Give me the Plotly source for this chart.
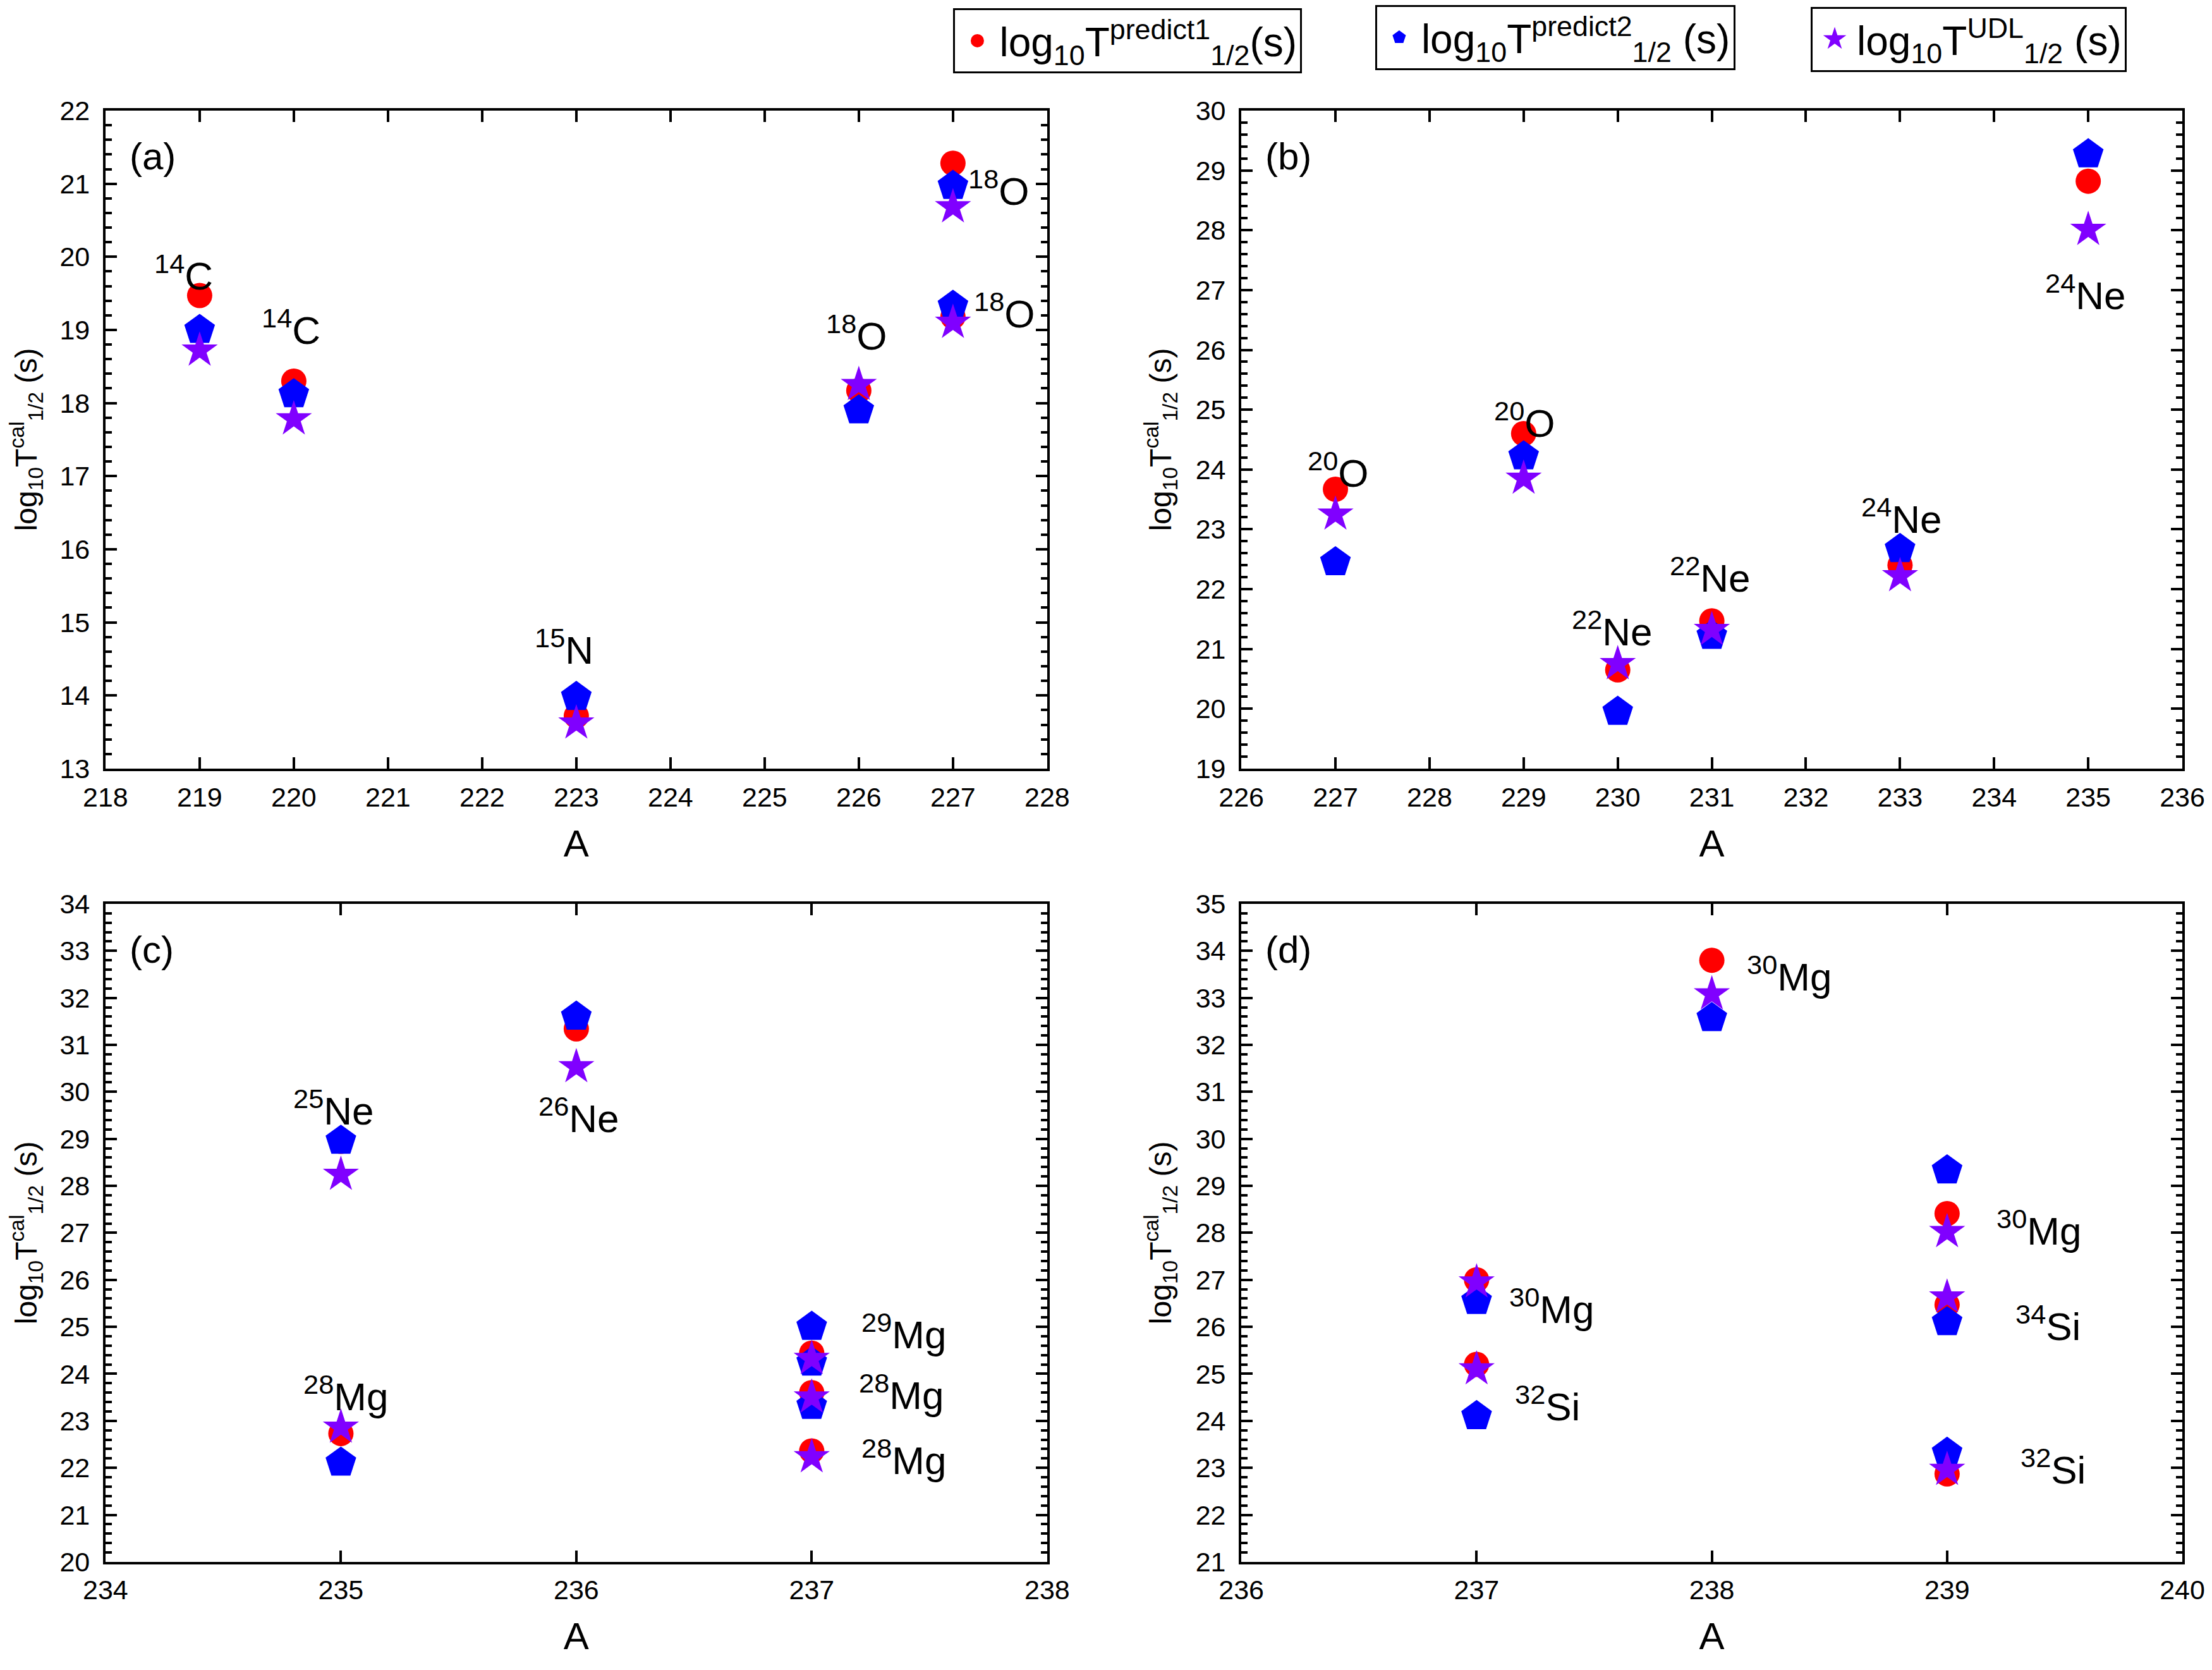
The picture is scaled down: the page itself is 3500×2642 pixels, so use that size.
import plotly.graph_objects as go
from plotly.subplots import make_subplots

# ---- data ----
A_a = [219, 220, 223, 226, 227, 227]
pred1_a = [19.47, 18.30, 13.72, 18.17, 21.28, 19.18]
pred2_a = [19.00, 18.12, 13.98, 17.90, 20.97, 19.33]
udl_a = [18.72, 17.78, 13.62, 18.25, 20.68, 19.10]

A_b = [227, 229, 230, 231, 233, 235]
pred1_b = [23.67, 24.60, 20.65, 21.47, 22.40, 28.82]
pred2_b = [22.45, 24.22, 19.95, 21.22, 22.67, 29.27]
udl_b = [23.25, 23.85, 20.75, 21.32, 22.22, 28.01]

A_c = [235, 235, 236, 237, 237, 237]
pred1_c = [22.73, 28.95, 31.34, 24.44, 23.60, 22.36]
pred2_c = [22.11, 28.96, 31.60, 25.00, 24.24, 23.32]
udl_c = [22.86, 28.24, 30.53, 24.32, 23.50, 22.23]

A_d = [237, 237, 238, 239, 239, 239]
pred1_d = [27.00, 25.20, 33.80, 28.41, 26.47, 22.87]
pred2_d = [26.55, 24.10, 32.57, 29.33, 26.10, 23.32]
udl_d = [26.95, 25.10, 33.08, 28.02, 26.63, 22.96]

# isotope labels (text, A, value where the label sits)
labels_a = [('<sup>14</sup>C', 218.83, 19.78), ('<sup>14</sup>C', 219.97, 19.03),
            ('<sup>15</sup>N', 222.87, 14.66), ('<sup>18</sup>O', 225.98, 18.96),
            ('<sup>18</sup>O', 227.49, 20.94), ('<sup>18</sup>O', 227.55, 19.26)]
labels_b = [('<sup>20</sup>O', 227.03, 23.99), ('<sup>20</sup>O', 229.01, 24.82),
            ('<sup>22</sup>Ne', 229.94, 21.33), ('<sup>22</sup>Ne', 230.98, 22.23),
            ('<sup>24</sup>Ne', 233.02, 23.22), ('<sup>24</sup>Ne', 234.97, 26.96)]
labels_c = [('<sup>25</sup>Ne', 234.97, 29.65), ('<sup>26</sup>Ne', 236.01, 29.50),
            ('<sup>28</sup>Mg', 235.02, 23.57), ('<sup>29</sup>Mg', 237.39, 24.89),
            ('<sup>28</sup>Mg', 237.38, 23.60), ('<sup>28</sup>Mg', 237.39, 22.22)]
labels_d = [('<sup>30</sup>Mg', 238.33, 33.50), ('<sup>30</sup>Mg', 239.39, 28.10),
            ('<sup>34</sup>Si', 239.43, 26.07), ('<sup>32</sup>Si', 239.45, 23.01),
            ('<sup>30</sup>Mg', 237.32, 26.43), ('<sup>32</sup>Si', 237.30, 24.36)]

panel_tags = ['(a)', '(b)', '(c)', '(d)']
x_ranges = [[218, 228], [226, 236], [234, 238], [236, 240]]
y_ranges = [[13, 22], [19, 30], [20, 34], [21, 35]]

FONT = 'Arial, "Liberation Sans", sans-serif'

series_names = [
    'log<sub>10</sub>T<sup>predict1</sup><sub>1/2</sub>(s)',
    'log<sub>10</sub>T<sup>predict2</sup><sub>1/2</sub> (s)',
    'log<sub>10</sub>T<sup>UDL</sup><sub>1/2</sub> (s)',
]
series_style = [
    dict(symbol='circle', color='#FF0000', size=40),
    dict(symbol='pentagon', color='#0000FF', size=51),
    dict(symbol='star', color='#8000FF', size=43),
]
legend_ids = ['legend', 'legend2', 'legend3']

panels = [
    (1, 1, A_a, [pred1_a, pred2_a, udl_a], labels_a),
    (1, 2, A_b, [pred1_b, pred2_b, udl_b], labels_b),
    (2, 1, A_c, [pred1_c, pred2_c, udl_c], labels_c),
    (2, 2, A_d, [pred1_d, pred2_d, udl_d], labels_d),
]

fig = make_subplots(rows=2, cols=2)

annotations = []
for k, (row, col, xs, ys_list, labs) in enumerate(panels):
    for s, ys in enumerate(ys_list):
        st = series_style[s]
        fig.add_trace(go.Scatter(
            x=xs, y=ys, mode='markers',
            name=series_names[s],
            showlegend=False,
            marker=dict(symbol=st['symbol'], color=st['color'], size=st['size'],
                        line=dict(width=0)),
        ), row=row, col=col)
    ax = '' if k == 0 else str(k + 1)
    for txt, lx, ly in labs:
        annotations.append(dict(
            x=lx, y=ly, xref='x' + ax, yref='y' + ax, text=txt, showarrow=False,
            font=dict(size=62, color='black', family=FONT),
        ))
    annotations.append(dict(
        x=0.024, y=0.93, xref='x' + ax + ' domain', yref='y' + ax + ' domain',
        text=panel_tags[k], showarrow=False, xanchor='left', yanchor='middle',
        font=dict(size=60, color='black', family=FONT),
    ))

# legend-only entries (one boxed legend per series)
for s in range(3):
    st = series_style[s]
    fig.add_trace(go.Scatter(
        x=[None], y=[None], mode='markers', name=series_names[s],
        legend=legend_ids[s], showlegend=True,
        marker=dict(symbol=st['symbol'], color=st['color'], size=st['size'],
                    line=dict(width=5, color=st['color'])),
    ), row=1, col=1)

# page body has an 8px margin, so panels are placed 8px up/left
x_domains = [[0.0454, 0.4711], [0.5589, 0.9843]]
y_domains = [[0.5428, 0.9368], [0.0678, 0.4618]]

axis_common = dict(
    showline=True, linecolor='black', linewidth=4, mirror='ticks',
    ticks='inside', tickwidth=4, ticklen=18, tickcolor='black',
    showgrid=False, zeroline=False, automargin=False,
    tickfont=dict(size=43, color='black', family=FONT),
)

for k, (row, col, xs, ys_list, labs) in enumerate(panels):
    fig.update_xaxes(
        range=x_ranges[k], dtick=1, domain=x_domains[col - 1],
        title=dict(text='A', font=dict(size=60, color='black', family=FONT), standoff=30),
        ticklabelstandoff=4,
        row=row, col=col, **axis_common,
    )
    fig.update_yaxes(
        range=y_ranges[k], dtick=1, domain=y_domains[row - 1],
        minor=dict(dtick=0.2, ticks='inside', ticklen=10, tickwidth=4, tickcolor='black'),
        title=dict(text='log<sub>10</sub>T<sup>cal</sup><sub>1/2</sub> (s)',
                   font=dict(size=48, color='black', family=FONT), standoff=24),
        ticklabelstandoff=12,
        row=row, col=col, **axis_common,
    )

legend_common = dict(
    orientation='h', xanchor='left', yanchor='top',
    bgcolor='white', bordercolor='black', borderwidth=3,
    font=dict(size=64, color='black', family=FONT),
    itemsizing='trace', itemwidth=60,
)

fig.update_layout(
    width=3500, height=2642, autosize=False,
    margin=dict(l=0, r=0, t=0, b=0),
    paper_bgcolor='white', plot_bgcolor='white',
    font=dict(family=FONT, color='black'),
    annotations=annotations,
    legend=dict(x=0.4287, y=0.998, **legend_common),
    legend2=dict(x=0.6194, y=1.0, **legend_common),
    legend3=dict(x=0.8163, y=0.999, **legend_common),
)

fig.write_html('out.html')
